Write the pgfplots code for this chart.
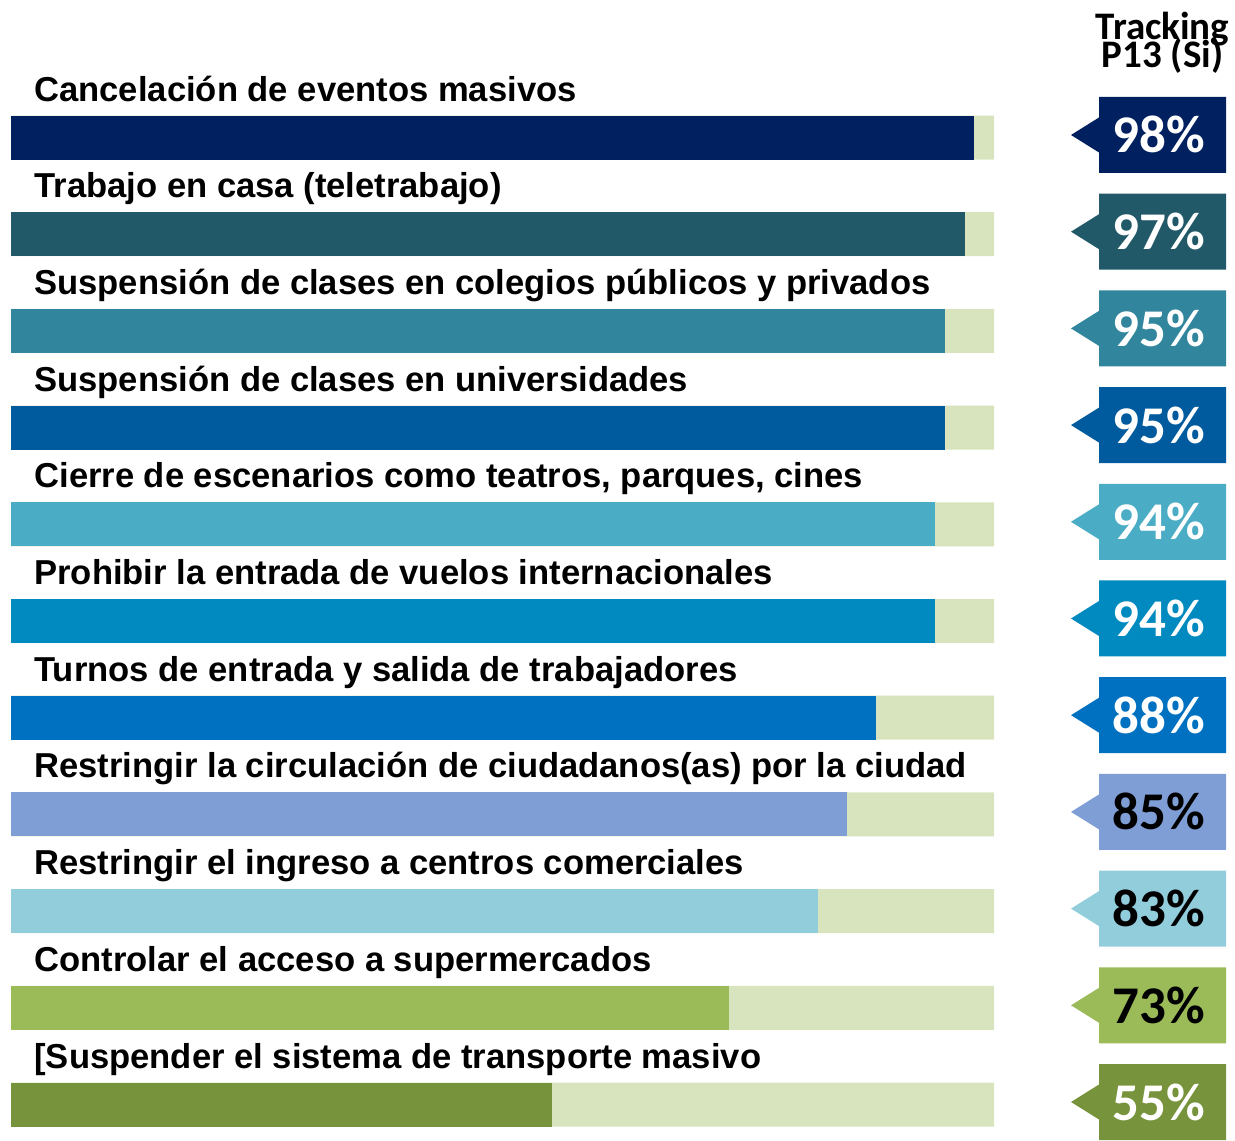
\documentclass[border=0pt]{standalone}
\usepackage{pgfplots}
\pgfplotsset{compat=1.18}
\usepackage{fontspec}
\setmainfont{Liberation Sans}
\newfontfamily\calibri{Carlito}

\definecolor{bgc}{HTML}{D8E4BE}
\definecolor{c0}{HTML}{002060}
\definecolor{c1}{HTML}{215968}
\definecolor{c2}{HTML}{31859C}
\definecolor{c3}{HTML}{005A9E}
\definecolor{c4}{HTML}{4BACC6}
\definecolor{c5}{HTML}{008ABF}
\definecolor{c6}{HTML}{0070C0}
\definecolor{c7}{HTML}{7F9ED5}
\definecolor{c8}{HTML}{92CDDC}
\definecolor{c9}{HTML}{9BBB59}
\definecolor{c10}{HTML}{77933C}

\begin{document}
\begin{tikzpicture}[x=1pt,y=1pt]
\useasboundingbox (0,0) rectangle (617.5,570);
\begin{axis}[
    at={(5.5pt,-6.425pt)}, anchor=south west,
    scale only axis, width=491.5pt, height=531.85pt,
    xmin=0, xmax=100, ymin=-0.5, ymax=10.5, y dir=reverse,
    hide axis, clip=false,
    xbar, bar shift=0pt, bar width=22pt,
    every axis plot/.append style={draw=none}
]
% fondo (100 %)
\addplot[fill=bgc] coordinates {(100,0) (100,1) (100,2) (100,3) (100,4) (100,5) (100,6) (100,7) (100,8) (100,9) (100,10)};
% valores
\addplot[fill=c0]  coordinates {(98,0)};
\addplot[fill=c1]  coordinates {(97,1)};
\addplot[fill=c2]  coordinates {(95,2)};
\addplot[fill=c3]  coordinates {(95,3)};
\addplot[fill=c4]  coordinates {(94,4)};
\addplot[fill=c5]  coordinates {(94,5)};
\addplot[fill=c6]  coordinates {(88,6)};
\addplot[fill=c7]  coordinates {(85,7)};
\addplot[fill=c8]  coordinates {(82.1,8)};
\addplot[fill=c9]  coordinates {(73,9)};
\addplot[fill=c10] coordinates {(55,10)};
\pgfplotsinvokeforeach{0,...,10}{
  \coordinate (l#1) at (axis cs:0,#1);
  \coordinate (p#1) at (axis cs:100,#1);
}
\end{axis}

% etiquetas
\foreach \i/\t in {
  0/{Cancelación de eventos masivos},
  1/{Trabajo en casa (teletrabajo)},
  2/{Suspensión de clases en colegios públicos y privados},
  3/{Suspensión de clases en universidades},
  4/{Cierre de escenarios como teatros, parques, cines},
  5/{Prohibir la entrada de vuelos internacionales},
  6/{Turnos de entrada y salida de trabajadores},
  7/{Restringir la circulación de ciudadanos(as) por la ciudad},
  8/{Restringir el ingreso a centros comerciales},
  9/{Controlar el acceso a supermercados},
  10/{[Suspender el sistema de transporte masivo}}
  \node[anchor=base west, inner sep=0pt, xshift=11.5pt, yshift=18.2pt,
        font=\fontsize{17.3pt}{20pt}\selectfont\bfseries] at (l\i) {\t};

% cajas tracking
\foreach \i/\v/\tc in {0/98/white, 1/97/white, 2/95/white, 3/95/white,
                       4/94/white, 5/94/white, 6/88/white, 7/85/black,
                       8/83/black, 9/73/black, 10/55/white} {
  \fill[c\i] ([shift={(52.5pt,20.25pt)}]p\i) -- ([shift={(116pt,20.25pt)}]p\i)
       -- ([shift={(116pt,-17.75pt)}]p\i) -- ([shift={(52.5pt,-17.75pt)}]p\i)
       -- ([shift={(52.5pt,-7.5pt)}]p\i) -- ([shift={(38.5pt,1.25pt)}]p\i)
       -- ([shift={(52.5pt,10pt)}]p\i) -- cycle;
  \node[anchor=base, inner sep=0pt, text=\tc,
        font=\calibri\bfseries\fontsize{26.5pt}{30pt}\selectfont]
        at ([shift={(82.5pt,-7.75pt)}]p\i) {\v\%};
}

% encabezado
\node[anchor=base, inner sep=0pt, font=\calibri\bfseries\fontsize{19.5pt}{22pt}\selectfont]
  at (581.25,550) {Tracking};
\node[anchor=base, inner sep=0pt, font=\calibri\bfseries\fontsize{19.5pt}{22pt}\selectfont]
  at (581.25,536) {P13 (Si)};
\end{tikzpicture}
\end{document}
